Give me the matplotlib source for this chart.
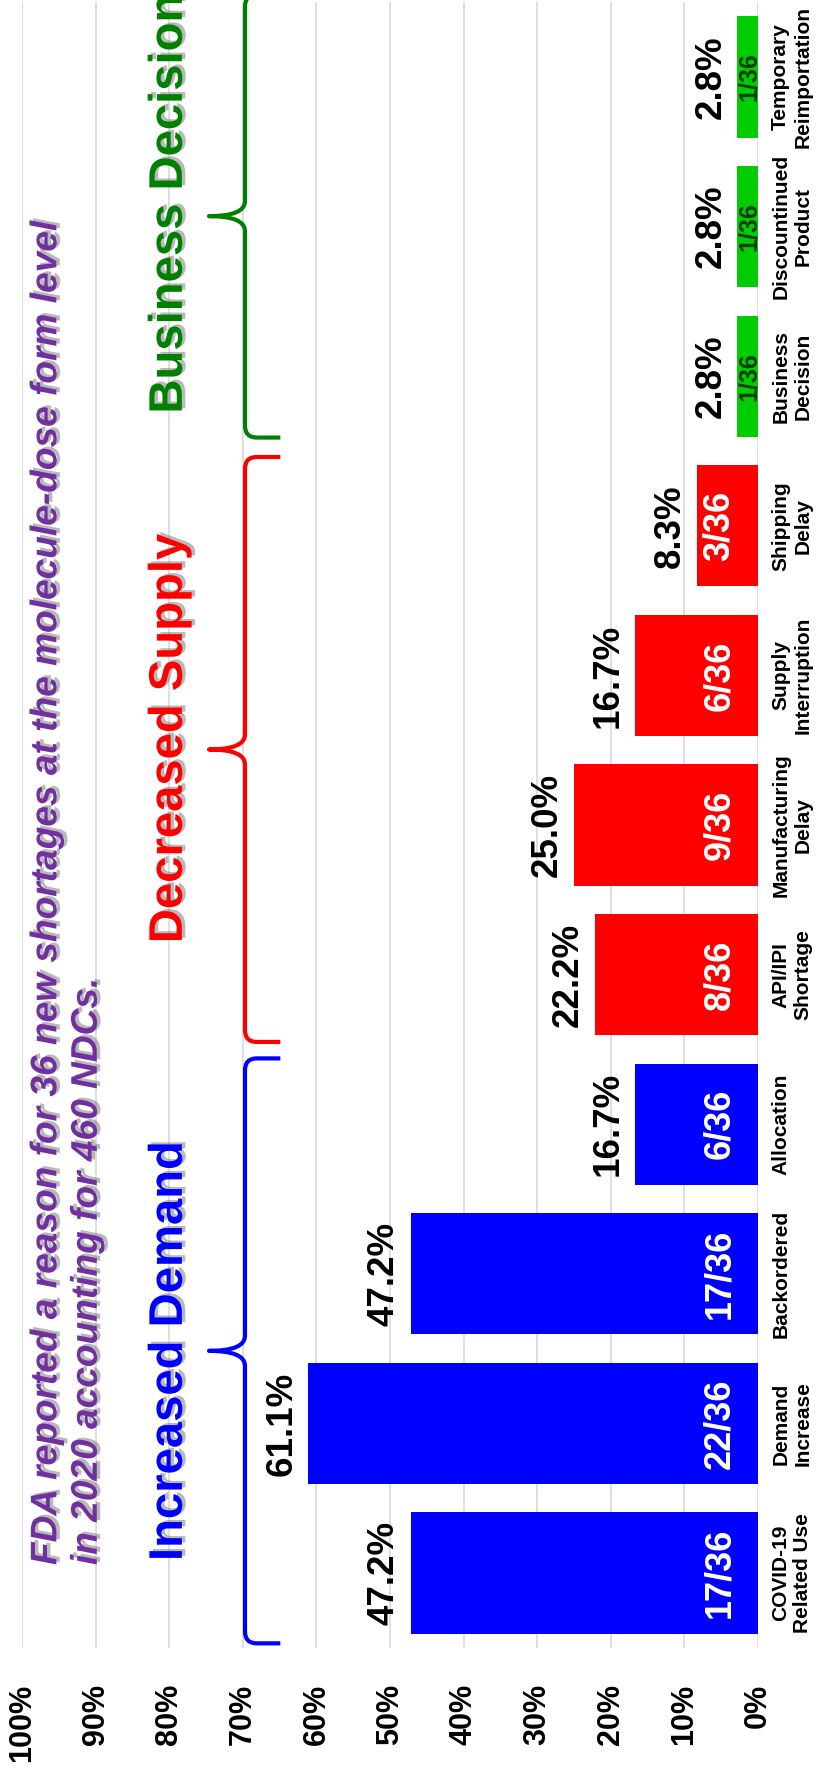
import numpy as np
import matplotlib
matplotlib.use('Agg')
import matplotlib.pyplot as plt
from matplotlib.path import Path
from matplotlib.patches import PathPatch
import matplotlib.patheffects as pe

plt.rcParams['font.family'] = ['Liberation Sans', 'DejaVu Sans']
plt.rcParams['font.weight'] = 'bold'

# data (bottom -> top of the rotated chart)
categories = ["COVID-19\nRelated Use", "Demand\nIncrease", "Backordered", "Allocation",
              "API/IPI\nShortage", "Manufacturing\nDelay", "Supply\nInterruption",
              "Shipping\nDelay", "Business\nDecision", "Discountinued\nProduct",
              "Temporary\nReimportation"]
percent = [47.2, 61.1, 47.2, 16.7, 22.2, 25.0, 16.7, 8.3, 2.8, 2.8, 2.8]
counts = ["17/36", "22/36", "17/36", "6/36", "8/36", "9/36", "6/36", "3/36", "1/36", "1/36", "1/36"]
group = ["demand"] * 4 + ["supply"] * 4 + ["business"] * 3

group_names = ["Increased Demand", "Decreased Supply", "Business Decision"]
group_spans = [(-0.47, 3.44), (3.55, 7.46), (7.59, 10.55)]
group_label_start = [0.08, 4.21, 7.75]
group_colors = ["#0000FF", "#FF0000", "#008000"]
bar_colors = {"demand": "#0000FF", "supply": "#FF0000", "business": "#00CC00"}

ticks = list(range(0, 101, 10))
tick_labels = [f"{t}%" for t in ticks]

title = ("FDA reported a reason for 36 new shortages at the molecule-dose form level\n"
         "in 2020 accounting for 460 NDCs.")

fig = plt.figure(figsize=(8.19, 17.73), dpi=100)
ax = fig.add_axes([0.02686, 0.0706, 0.89866, 0.92815])

y = np.arange(len(categories))
ax.barh(y, percent, height=0.81, color=[bar_colors[g] for g in group], zorder=2)

ax.set_xlim(100, 0)
ax.set_ylim(-0.5, len(categories) - 0.5)
ax.set_xticks(ticks)
ax.set_xticklabels(tick_labels, rotation=90, fontsize=22, fontweight='bold')
ax.tick_params(axis='x', length=0, pad=26)
ax.grid(axis='x', color='#D9D9D9', lw=1.2, zorder=0)
ax.set_axisbelow(True)

ax.yaxis.tick_right()
ax.set_yticks(y)
ax.set_yticklabels(categories, rotation=90, fontsize=15, fontweight='bold',
                   va='center', ha='left', multialignment='center')
ax.tick_params(axis='y', length=0, pad=9.5)
for s in ax.spines.values():
    s.set_visible(False)

# value labels
for i, (p, c) in enumerate(zip(percent, counts)):
    ax.annotate(f"{p:.1f}%", xy=(p, i), xytext=(-6.5, 0), textcoords='offset points',
                rotation=90, ha='right', va='center', fontsize=26.5, fontweight='bold',
                color='black', annotation_clip=False)
    if p < 5:
        ax.annotate(c, xy=(0, i), xytext=(2, 0), textcoords='offset points',
                    rotation=90, ha='right', va='center', fontsize=18, fontweight='bold',
                    color='#0B3D0B', annotation_clip=False)
    else:
        ax.annotate(c, xy=(0, i), xytext=(-15, 0), textcoords='offset points',
                    rotation=90, ha='right', va='center', fontsize=26, fontweight='bold',
                    color='white', annotation_clip=False)


def brace(ax, y0, y1, color):
    ym = (y0 + y1) / 2
    xl, xe, xt = 69.7, 64.9, 74.6
    rx, ry, rt = 1.6, 0.08, 0.1
    verts = [(xe, y0), (xl - rx, y0),
             (xl, y0), (xl, y0 + ry),
             (xl, ym - rt),
             (xl, ym), (xt, ym),
             (xl, ym), (xl, ym + rt),
             (xl, y1 - ry),
             (xl, y1), (xl - rx, y1),
             (xe, y1)]
    codes = [Path.MOVETO, Path.LINETO,
             Path.CURVE3, Path.CURVE3,
             Path.LINETO,
             Path.CURVE3, Path.CURVE3,
             Path.CURVE3, Path.CURVE3,
             Path.LINETO,
             Path.CURVE3, Path.CURVE3,
             Path.LINETO]
    ax.add_patch(PathPatch(Path(verts, codes), fill=False, edgecolor=color, lw=3,
                           clip_on=False, capstyle='butt', joinstyle='round', zorder=3))


shadow = [pe.withSimplePatchShadow(offset=(2.5, 1.5), shadow_rgbFace='#808080', alpha=0.55)]

for name, (y0, y1), start, col in zip(group_names, group_spans, group_label_start, group_colors):
    brace(ax, y0, y1, col)
    ax.text(82.9, start, name, rotation=90, ha='left', va='bottom', fontsize=34,
            fontweight='bold', color=col, path_effects=shadow, clip_on=False, zorder=4)

ax.text(99.0, 0.053, title, rotation=90, ha='left', va='bottom', fontsize=26.7,
        fontweight='bold', fontstyle='italic', color='#7030A0', multialignment='left',
        linespacing=1.2, path_effects=shadow, clip_on=False, zorder=4)

fig.savefig('out.png', dpi=100)
